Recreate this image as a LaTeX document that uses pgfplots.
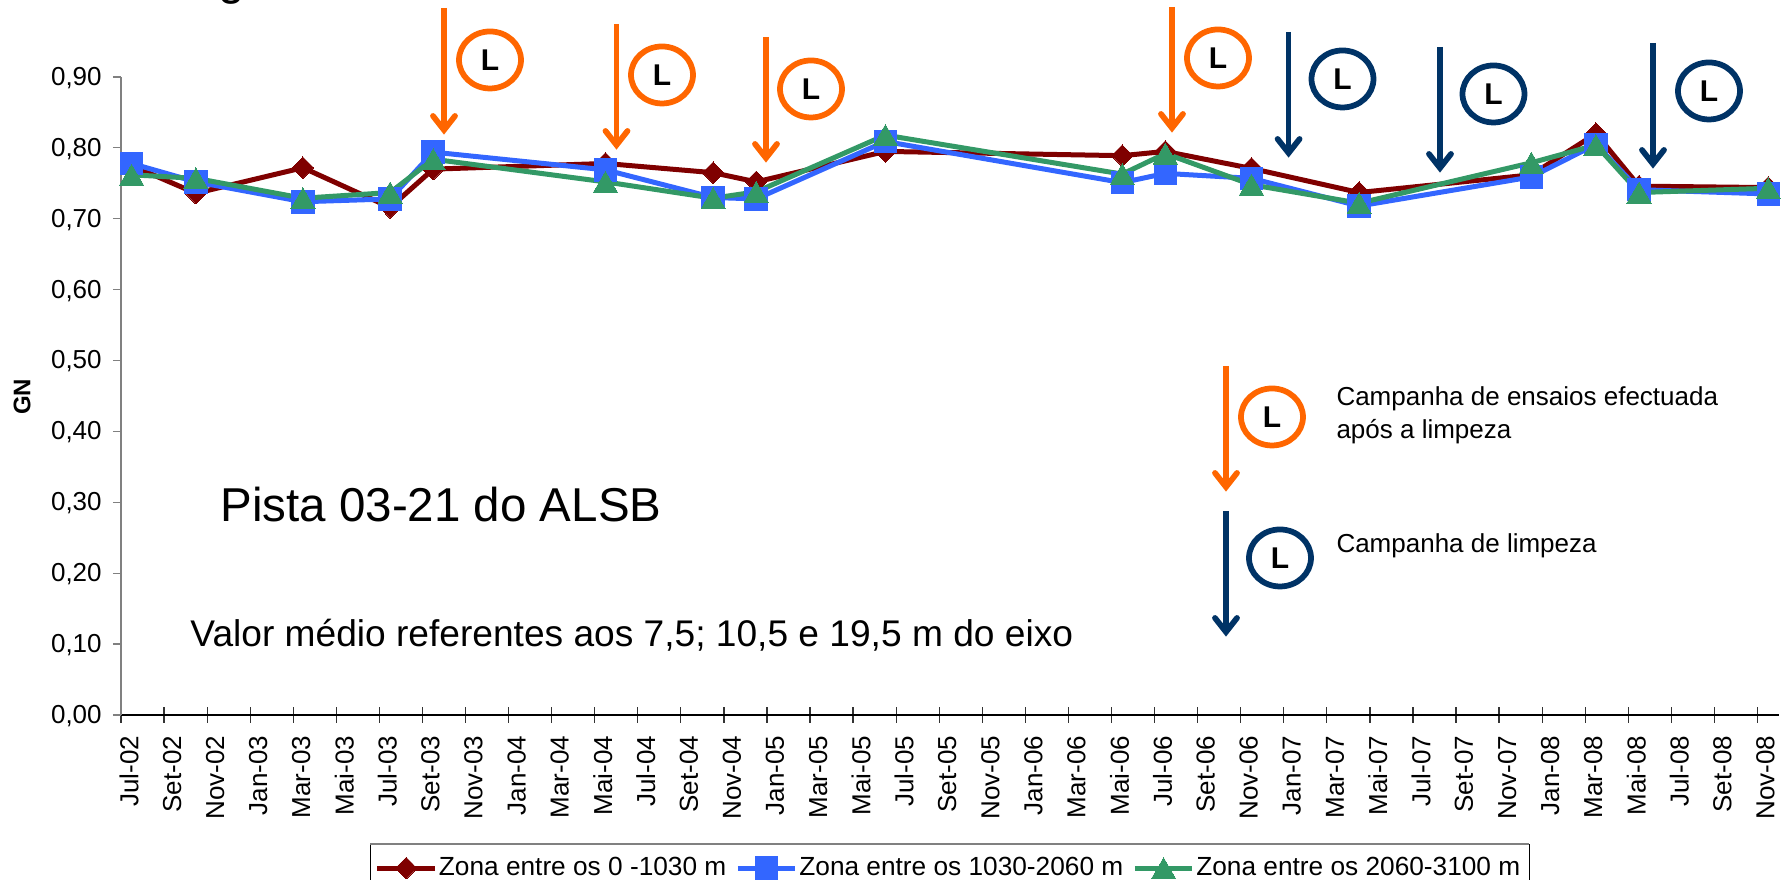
\documentclass[border=0pt]{standalone}
\usepackage{pgfplots}
\pgfplotsset{compat=1.18}
\usepackage{pgfplotstable}
\usepackage{fontspec}
\setmainfont{Liberation Sans}

\definecolor{cred}{HTML}{7F0000}
\definecolor{cblue}{HTML}{3366FF}
\definecolor{cgreen}{HTML}{339966}
\definecolor{corange}{HTML}{FF6600}
\definecolor{cnavy}{HTML}{003366}

% months since Jul-02, then the three zones
\pgfplotstableread{
m     z1     z2     z3
0.49  0.775  0.778  0.762
3.48  0.736  0.752  0.757
8.45  0.772  0.724  0.729
12.5  0.716  0.728  0.737
14.5  0.770  0.794  0.784
22.5  0.778  0.769  0.752
27.5  0.765  0.730  0.729
29.5  0.752  0.728  0.738
35.5  0.795  0.809  0.818
46.5  0.789  0.751  0.763
48.5  0.795  0.764  0.792
52.5  0.771  0.757  0.748
57.5  0.737  0.718  0.722
65.5  0.762  0.759  0.779
68.5  0.820  0.805  0.804
70.5  0.746  0.741  0.737
76.5  0.744  0.735  0.743
}\gndata

% arrow: x, top, tip, colour
\newcommand{\arr}[4]{%
  \draw[#4,line width=2.3pt] (#1,#2) -- (#1,#3-8);
  \draw[#4,line width=2.3pt,line cap=round,line join=miter] (#1-11,#3-17) -- (#1,#3-3) -- (#1+11,#3-17);
}
% circled L: x, y, colour
\newcommand{\cL}[3]{%
  \draw[#3,line width=2.3pt] (#1,#2) ellipse [x radius=31,y radius=28.5];
  \node[font=\fontsize{12}{14}\selectfont\bfseries,inner sep=0] at (#1,#2) {L};
}

\begin{document}
\begin{tikzpicture}
\path[use as bounding box] (0,0) rectangle (714pt,352pt);
\begin{axis}[
  at={(48.4pt,66pt)}, anchor=south west,
  scale only axis, width=663.2pt, height=255.2pt,
  xmin=0, xmax=77, ymin=0, ymax=0.9,
  axis x line=bottom, axis y line=left,
  axis line style={-},
  x axis line style={black,line width=0.6pt},
  y axis line style={gray,line width=0.8pt},
  xtick={0,2,...,76},
  xticklabels={Jul-02,Set-02,Nov-02,Jan-03,Mar-03,Mai-03,Jul-03,Set-03,Nov-03,Jan-04,Mar-04,Mai-04,Jul-04,Set-04,Nov-04,Jan-05,Mar-05,Mai-05,Jul-05,Set-05,Nov-05,Jan-06,Mar-06,Mai-06,Jul-06,Set-06,Nov-06,Jan-07,Mar-07,Mai-07,Jul-07,Set-07,Nov-07,Jan-08,Mar-08,Mai-08,Jul-08,Set-08,Nov-08},
  ytick={0,0.1,...,0.9},
  xtick align=center, ytick align=outside,
  major tick length=6.4pt,
  x tick style={black!80,line width=0.5pt},
  y tick style={gray,line width=0.5pt,/pgfplots/major tick length=3.2pt},
  minor tick num=0,
  tick label style={font=\fontsize{10.4}{12}\selectfont},
  xticklabel style={rotate=90,anchor=east,xshift=-1.6pt,yshift=-3.2pt},
  yticklabel style={xshift=2.2pt,yshift=-0.4pt,
    /pgf/number format/.cd,fixed,fixed zerofill,precision=2,use comma,assume math mode=true},
  legend columns=3,
  legend cell align=left,
  legend image code/.code={
    \draw[mark repeat=2,mark phase=2,#1] plot coordinates {(0pt,0pt)(11.5pt,0pt)(23pt,0pt)};
  },
  legend style={
    at={(axis description cs:0.1502,-0.2022)}, anchor=north west,
    draw=black, line width=0.5pt,
    font=\fontsize{10.5}{12}\selectfont,
    inner xsep=1.7pt, inner ysep=3pt,
    /tikz/every odd column/.append style={column sep=-1.4pt},
    /tikz/every even column/.append style={column sep=1.6pt},
  },
]
\addplot[cred,line width=2pt,mark=diamond*,mark size=4.3pt,mark options={solid,line width=0pt,fill=cred,xscale=1.33}] table[x=m,y=z1] {\gndata};
\addplot[cblue,line width=2pt,mark=square*,mark size=4.5pt,mark options={solid,line width=0pt,fill=cblue}] table[x=m,y=z2] {\gndata};
\addplot[cgreen,line width=2pt,mark=triangle*,mark size=5.6pt,mark options={solid,line width=0pt,fill=cgreen,yshift=-1.4pt}] table[x=m,y=z3] {\gndata};
\legend{Zona entre os 0 -1030 m,Zona entre os 1030-2060 m,Zona entre os 2060-3100 m}
\end{axis}

% everything below in reference pixels, y down
\begin{scope}[shift={(0,352pt)},x=0.4pt,y=-0.4pt]
  \node[anchor=base west,inner sep=0,font=\fontsize{19}{22}\selectfont] at (218,-5) {g};
  \node[rotate=90,inner sep=0,font=\fontsize{9.6}{11}\selectfont\bfseries] at (22,397) {GN};
  \node[anchor=base west,inner sep=0,font=\fontsize{19}{22}\selectfont] at (220,522) {Pista 03-21 do ALSB};
  \node[anchor=base west,inner sep=0,font=\fontsize{14.85}{17}\selectfont] at (190,647) {Valor médio referentes aos 7,5; 10,5 e 19,5 m do eixo};
  \node[anchor=base west,inner sep=0,font=\fontsize{10.4}{12}\selectfont] at (1336,406) {Campanha de ensaios efectuada};
  \node[anchor=base west,inner sep=0,font=\fontsize{10.4}{12}\selectfont] at (1336,439) {após a limpeza};
  \node[anchor=base west,inner sep=0,font=\fontsize{10.4}{12}\selectfont] at (1336,553) {Campanha de limpeza};

  \arr{444}{8}{133}{corange}    \cL{490}{60}{corange}
  \arr{616.5}{24}{148}{corange} \cL{662}{75}{corange}
  \arr{766}{37}{161}{corange}   \cL{811}{89}{corange}
  \arr{1172}{7}{131}{corange}   \cL{1218}{58}{corange}
  \arr{1288.6}{32}{156}{cnavy}  \cL{1342.5}{79}{cnavy}
  \arr{1440}{47}{171}{cnavy}    \cL{1493.5}{94}{cnavy}
  \arr{1653}{43}{167}{cnavy}    \cL{1709}{91}{cnavy}
  \arr{1226}{366}{490}{corange} \cL{1272}{417}{corange}
  \arr{1226}{511}{635}{cnavy}   \cL{1280}{558}{cnavy}

  \draw[gray,line width=1pt] (370,844) -- (1529,844);
\end{scope}
\end{tikzpicture}
\end{document}
